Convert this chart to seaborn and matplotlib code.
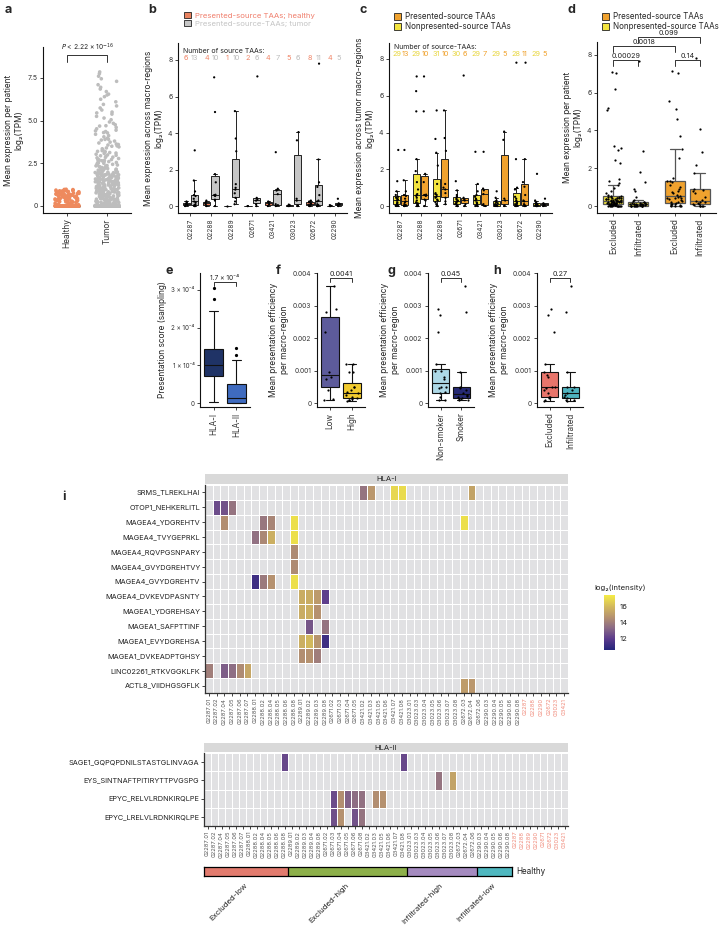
import numpy as np
import pandas as pd
import seaborn as sns
import matplotlib.pyplot as plt
from matplotlib.colors import LinearSegmentedColormap, ListedColormap, Normalize
from matplotlib.cm import ScalarMappable
from matplotlib.patches import Patch
import matplotlib.transforms as mtransforms

# ---------------- data: panel a
a_healthy_nonzero = [0.03, 0.06, 0.09, 0.11, 0.14, 0.17, 0.19, 0.22, 0.24, 0.27, 0.29, 0.31, 0.34, 0.36,
                     0.39, 0.41, 0.43, 0.46, 0.48, 0.51, 0.53, 0.56, 0.58, 0.61, 0.63, 0.66, 0.68, 0.71,
                     0.73, 0.76, 0.78, 0.81, 0.83, 0.86, 0.88, 0.91, 0.93, 0.96, 0.12, 0.25, 0.37, 0.44,
                     0.52, 0.64, 0.72, 0.85, 0.94, 0.07, 0.33, 0.57, 0.69, 0.79, 0.89, 0.21, 0.47, 0.62,
                     0.98, 0.16, 0.54, 0.74, 0.04, 0.13, 0.26, 0.38, 0.49, 0.59, 0.67, 0.77, 0.87, 0.95,
                     0.08, 0.18, 0.28, 0.42, 0.55, 0.65, 0.75, 0.82, 0.92, 0.97, 0.1, 0.23, 0.35, 0.45,
                     0.6, 0.7, 0.8, 0.9]
a_healthy_zeros = 300
a_tumor_nonzero = [0.02, 0.04, 0.05, 0.07, 0.09, 0.1, 0.12, 0.13, 0.15, 0.17, 0.18, 0.2, 0.22, 0.23, 0.25,
                   0.27, 0.28, 0.3, 0.32, 0.34, 0.35, 0.37, 0.39, 0.4, 0.42, 0.44, 0.45, 0.47, 0.49, 0.5,
                   0.52, 0.54, 0.55, 0.57, 0.59, 0.6, 0.62, 0.64, 0.65, 0.67, 0.69, 0.7, 0.72, 0.74, 0.75,
                   0.77, 0.79, 0.8, 0.82, 0.84, 0.85, 0.87, 0.89, 0.9, 0.92, 0.94, 0.95, 0.97, 0.99, 0.33,
                   1.01, 1.03, 1.05, 1.07, 1.09, 1.11, 1.13, 1.15, 1.17, 1.19, 1.21, 1.23, 1.25, 1.27, 1.29,
                   1.31, 1.33, 1.35, 1.37, 1.39, 1.41, 1.43, 1.45, 1.47, 1.49, 1.51, 1.53, 1.55, 1.57, 1.59,
                   1.61, 1.63, 1.65, 1.67, 1.69, 1.71, 1.73, 1.75, 1.77, 1.79, 1.81, 1.83, 1.85, 1.87, 1.89,
                   1.91, 1.93, 1.95, 1.97, 1.99, 2.02, 2.05, 2.08, 2.1, 2.13, 2.16, 2.19, 2.22, 2.25, 2.28,
                   2.31, 2.34, 2.37, 2.41, 2.44, 2.48, 2.52, 2.55, 2.59, 2.63, 2.67, 2.7, 2.74, 2.78, 2.82,
                   2.86, 2.9, 2.94, 2.97, 2.99, 3.03, 3.08, 3.13, 3.18, 3.24, 3.29, 3.35, 3.4, 3.46, 3.52,
                   3.57, 3.63, 3.69, 3.74, 3.8, 3.86, 3.91, 3.97, 3.2, 3.6, 4.05, 4.12, 4.2, 4.28, 4.36,
                   4.44, 4.52, 4.6, 4.68, 4.76, 4.84, 4.92, 4.3, 4.7, 5.05, 5.15, 5.25, 5.38, 5.5, 5.62,
                   5.74, 5.86, 5.95, 5.45, 6.1, 6.25, 6.4, 6.55, 6.7, 6.85, 6.95, 6.5, 7.1, 7.3, 7.45, 7.6,
                   7.75, 7.85,
                   0.03, 0.08, 0.14, 0.19, 0.26, 0.31, 0.38, 0.43, 0.48, 0.53, 0.58, 0.63, 0.68, 0.73,
                   0.78, 0.83, 0.88, 0.93, 0.98, 1.02, 1.06, 1.1, 1.14, 1.18, 1.22, 1.26, 1.3, 1.34, 1.38,
                   1.42, 1.46, 1.5, 1.54, 1.58, 1.62, 1.66, 1.7, 1.74, 1.78, 1.82, 1.86, 1.9, 1.94, 1.98,
                   2.04, 2.12, 2.2, 2.3, 2.4, 2.5, 2.6, 2.72, 2.85, 0.06, 0.16, 0.24, 0.36, 0.46, 0.56,
                   0.66, 0.76, 0.86, 0.96, 1.04, 1.16, 1.28, 1.44, 1.56, 1.68, 1.84, 1.96, 2.15, 2.35,
                   2.65, 3.1, 3.5, 3.9, 4.4]
a_tumor_zeros = 900
a_pvalue = "$P$ < 2.22 × 10$^{-16}$"

# ---------------- data: panels b, c
patients = ["02287", "02288", "02289", "02671", "03421", "03023", "02672", "02290"]
b_healthy = [[0.0, 0.05, 0.1, 0.15, 0.2, 0.25], [0.0, 0.1, 0.2, 0.3], [0.0], [0.0, 0.0],
             [0.0, 0.1, 0.2, 0.25], [0.0, 0.0, 0.02, 0.05, 0.08],
             [0.0, 0.0, 0.05, 0.1, 0.15, 0.2, 0.25, 0.3], [0.0, 0.0, 0.02, 0.05]]
b_tumor = [[0, 0, 0.02, 0.05, 0.1, 0.2, 0.25, 0.4, 0.55, 0.6, 0.8, 1.4, 3.05],
           [0, 0.3, 0.35, 0.55, 0.6, 0.62, 1.3, 1.75, 5.15, 7.05],
           [0.1, 0.25, 0.45, 0.7, 0.9, 1.0, 1.2, 3.0, 3.7, 5.2],
           [0.0, 0.1, 0.3, 0.35, 0.45, 7.1],
           [0, 0.05, 0.1, 0.65, 0.85, 0.95, 2.95],
           [0, 0.02, 0.3, 0.4, 3.6, 4.05],
           [0, 0, 0.05, 0.1, 0.25, 0.3, 0.6, 1.05, 1.3, 2.55, 7.8],
           [0, 0.05, 0.1, 0.15, 0.4]]
b_n_healthy = [6, 4, 1, 2, 4, 5, 8, 4]
b_n_tumor = [13, 10, 10, 6, 7, 6, 11, 5]

c_nonpresented = [[0, 0, 0.02, 0.05, 0.1, 0.15, 0.2, 0.3, 0.35, 0.4, 0.45, 0.5, 0.6, 0.8, 1.35, 3.05],
                  [0, 0, 0.05, 0.1, 0.15, 0.2, 0.3, 0.45, 0.55, 0.6, 0.65, 0.9, 1.3, 1.9, 2.55, 5.15, 6.25, 7.05],
                  [0, 0.05, 0.1, 0.2, 0.3, 0.35, 0.45, 0.5, 0.6, 0.65, 0.7, 1.2, 2.2, 2.9, 3.65, 5.2],
                  [0, 0, 0.05, 0.1, 0.15, 0.2, 0.25, 0.3, 0.35, 0.4, 0.5, 0.6, 0.85, 1.35],
                  [0, 0, 0.05, 0.1, 0.15, 0.2, 0.3, 0.35, 0.4, 0.5, 0.6, 0.8, 1.2, 2.95],
                  [0, 0, 0, 0.02, 0.05, 0.08, 0.1, 0.15, 0.2, 0.25, 0.3, 0.45, 0.8],
                  [0, 0, 0.02, 0.05, 0.1, 0.15, 0.2, 0.25, 0.3, 0.4, 0.5, 0.9, 1.0, 2.55, 7.8],
                  [0, 0, 0, 0.02, 0.05, 0.05, 0.08, 0.1, 0.12, 0.15, 0.2, 0.3, 1.75]]
c_presented = b_tumor
c_n_nonpresented = [29, 29, 31, 30, 29, 29, 28, 29]
c_n_presented = [13, 10, 10, 6, 7, 5, 11, 5]

# ---------------- data: panel d
d_non_excluded = [0, 0, 0, 0, 0.02, 0.05, 0.05, 0.08, 0.1, 0.1, 0.12, 0.15, 0.15, 0.2, 0.2, 0.22, 0.25,
                  0.3, 0.3, 0.35, 0.4, 0.4, 0.45, 0.5, 0.5, 0.55, 0.6, 0.7, 0.8, 0.95, 1.1, 1.2, 1.3,
                  1.45, 2.25, 2.45, 2.95, 3.05, 3.15, 5.1, 5.2, 6.2, 7.05, 7.1,
                  0, 0, 0, 0.01, 0.03, 0.04, 0.06, 0.07, 0.09, 0.11, 0.13, 0.14, 0.16, 0.18, 0.19,
                  0.21, 0.23, 0.24, 0.26, 0.28, 0.31, 0.33, 0.36, 0.38, 0.42, 0.47, 0.52, 0.02, 0.05,
                  0.1, 0.15, 0.2, 0.25, 0.35, 0.45]
d_non_infiltrated = [0, 0, 0, 0, 0, 0.02, 0.03, 0.05, 0.05, 0.08, 0.1, 0.1, 0.12, 0.15, 0.2, 0.2, 0.25,
                     0.3, 0.5, 0.8, 0.9, 1.25, 1.8, 2.9, 7.65,
                     0, 0, 0.01, 0.02, 0.04, 0.06, 0.07, 0.09, 0.11, 0.13, 0.15, 0.18]
d_pres_excluded = [0, 0, 0, 0.02, 0.05, 0.05, 0.08, 0.1, 0.1, 0.15, 0.2, 0.2, 0.25, 0.3, 0.35, 0.4, 0.4,
                   0.45, 0.5, 0.55, 0.6, 0.7, 0.75, 0.8, 0.9, 1.0, 1.1, 1.25, 1.3, 1.35, 1.5, 2.55, 3.0,
                   3.7, 4.6, 5.15, 5.55, 7.05, 7.15]
d_pres_infiltrated = [0, 0, 0, 0.02, 0.05, 0.08, 0.1, 0.15, 0.2, 0.2, 0.25, 0.3, 0.5, 0.7, 0.8, 0.85,
                      0.9, 1.75, 2.15, 2.85, 4.1, 7.85]
d_p_values = ["0.00029", "0.0018", "0.099", "0.14"]

# ---------------- data: panels e-h
e_hla1 = [0.02, 0.3, 0.5, 0.65, 0.72, 0.75, 0.85, 0.95, 1.0, 1.0, 1.1, 1.25, 1.4, 1.45, 1.7, 2.45, 2.75, 3.05]
e_hla2 = [0, 0, 0, 0, 0.01, 0.05, 0.1, 0.12, 0.15, 0.25, 0.4, 0.45, 0.5, 0.8, 1.15, 1.27, 1.47]
e_scale = 1e-4
f_low = [0.0001, 0.00012, 0.0004, 0.00075, 0.0008, 0.00095, 0.0022, 0.0028, 0.0029, 0.0036]
f_high = [0.00005, 0.0001, 0.0001, 0.00012, 0.00015, 0.0002, 0.00025, 0.0003, 0.00035, 0.0004, 0.0005,
          0.0005, 0.00095, 0.00095, 0.0012, 0.0012]
g_nonsmoker = [0.00008, 0.0001, 0.0002, 0.0003, 0.00033, 0.00045, 0.0005, 0.0005, 0.00075, 0.0008,
               0.001, 0.001, 0.0012, 0.0022, 0.0027, 0.0029]
g_smoker = [0.0001, 0.0001, 0.00012, 0.00015, 0.0002, 0.00022, 0.00025, 0.0003, 0.0004, 0.00045,
            0.0005, 0.00095, 0.0028, 0.0036]
h_excluded = [0.00005, 0.0001, 0.00015, 0.0002, 0.0002, 0.0003, 0.0004, 0.00045, 0.0005, 0.0005, 0.0008,
              0.00085, 0.00095, 0.0012, 0.0022, 0.0027, 0.0029]
h_infiltrated = [0.00005, 0.0001, 0.0001, 0.00015, 0.0002, 0.00025, 0.0003, 0.0004, 0.0005, 0.0005,
                 0.00095, 0.0028, 0.0036]
efgh_p = ["1.7 × 10⁻⁴", "0.0041", "0.045", "0.27"]

# ---------------- data: panel i
hla1_peptides = ["SRMS_TLREKLHAI", "OTOP1_NEHKERLITL", "MAGEA4_YDGREHTV", "MAGEA4_TVYGEPRKL",
                 "MAGEA4_RQVPGSNPARY", "MAGEA4_GVYDGREHTVY", "MAGEA4_GVYDGREHTV", "MAGEA4_DVKEVDPASNTY",
                 "MAGEA1_YDGREHSAY", "MAGEA1_SAFPTTINF", "MAGEA1_EVYDGREHSA", "MAGEA1_DVKEADPTGHSY",
                 "LINC02261_RTKVGGKLFK", "ACTL8_VIIDHGSGFLK"]
hla1_samples = ["02287.01", "02287.02", "02287.04", "02287.05", "02287.06", "02287.07",
                "02288.01", "02288.02", "02288.04", "02288.05", "02288.06", "02288.08",
                "02289.01", "02289.02", "02289.03", "02289.08",
                "02671.02", "02671.03", "02671.04", "02671.05",
                "03421.02", "03421.03", "03421.05", "03421.06", "03421.07", "03421.08",
                "03023.01", "03023.03", "03023.04", "03023.05", "03023.06", "03023.07", "03023.08",
                "02672.03", "02672.04", "02672.06",
                "02290.03", "02290.04", "02290.05", "02290.06", "02290.08",
                "02287", "02288", "02290", "02672", "03023", "03421"]
hla1_hit_peptide = (["SRMS_TLREKLHAI"] * 5 + ["OTOP1_NEHKERLITL"] * 3 + ["MAGEA4_YDGREHTV"] * 5
                    + ["MAGEA4_TVYGEPRKL"] * 4 + ["MAGEA4_RQVPGSNPARY", "MAGEA4_GVYDGREHTVY"]
                    + ["MAGEA4_GVYDGREHTV"] * 4 + ["MAGEA4_DVKEVDPASNTY"] * 4 + ["MAGEA1_YDGREHSAY"] * 3
                    + ["MAGEA1_SAFPTTINF"] * 2 + ["MAGEA1_EVYDGREHSA"] * 4 + ["MAGEA1_DVKEADPTGHSY"] * 3
                    + ["LINC02261_RTKVGGKLFK"] * 5 + ["ACTL8_VIIDHGSGFLK"] * 2)
hla1_hit_sample = ["03421.02", "03421.03", "03421.07", "03421.08", "02672.04",
                   "02287.02", "02287.04", "02287.05",
                   "02287.04", "02288.02", "02288.04", "02288.08", "02672.03",
                   "02288.01", "02288.02", "02288.04", "02288.08",
                   "02288.08", "02288.08",
                   "02288.01", "02288.02", "02288.04", "02288.08",
                   "02289.01", "02289.02", "02289.03", "02289.08",
                   "02289.01", "02289.02", "02289.03",
                   "02289.02", "02289.08",
                   "02289.01", "02289.02", "02289.03", "02289.08",
                   "02289.01", "02289.02", "02289.03",
                   "02287.01", "02287.04", "02287.05", "02287.06", "02287.07",
                   "02672.03", "02672.04"]
hla1_hit_log2 = [13.6, 14.8, 16.8, 16.9, 15.2,
                 12.4, 12.6, 13.6,
                 14.5, 13.7, 14.2, 17.0, 17.0,
                 13.5, 14.3, 15.6, 17.0,
                 14.4, 14.4,
                 11.2, 13.8, 14.6, 17.0,
                 15.5, 15.5, 14.9, 12.0,
                 15.5, 15.6, 14.6,
                 12.7, 13.6,
                 15.6, 15.9, 14.7, 11.2,
                 14.5, 14.6, 13.9,
                 14.0, 12.9, 13.4, 14.4, 15.3,
                 15.0, 14.8]

hla2_peptides = ["SAGE1_GQPQPDNILSTASTGLINVAGA", "EYS_SINTNAFTPITIRYTTPVGSPG",
                 "EPYC_RELVLRDNKIRQLPE", "EPYC_LRELVLRDNKIRQLPE"]
hla2_samples = ["02287.01", "02287.02", "02287.04", "02287.05", "02287.06", "02287.07",
                "02288.01", "02288.02", "02288.04", "02288.05", "02288.06", "02288.08",
                "02289.01", "02289.02", "02289.03", "02289.04", "02289.08",
                "02671.02", "02671.03", "02671.04", "02671.05", "02671.06", "02671.08",
                "03421.02", "03421.03", "03421.05", "03421.06", "03421.07", "03421.08",
                "03023.01", "03023.03", "03023.04", "03023.05", "03023.06", "03023.07", "03023.08",
                "02672.03", "02672.04", "02672.06",
                "02290.03", "02290.04", "02290.05", "02290.06", "02290.08",
                "02287", "02288", "02289", "02290", "02671", "02672", "03023", "03421"]
hla2_hit_peptide = (["SAGE1_GQPQPDNILSTASTGLINVAGA"] * 2 + ["EYS_SINTNAFTPITIRYTTPVGSPG"] * 2
                    + ["EPYC_RELVLRDNKIRQLPE"] * 7 + ["EPYC_LRELVLRDNKIRQLPE"] * 4)
hla2_hit_sample = ["02288.08", "03421.08", "03023.06", "03023.08",
                   "02671.03", "02671.04", "02671.05", "02671.06", "02671.08", "03421.03", "03421.05",
                   "02671.03", "02671.04", "02671.06", "02671.08"]
hla2_hit_log2 = [12.3, 12.3, 13.6, 15.2,
                 12.4, 14.5, 13.0, 13.4, 13.5, 14.5, 14.6,
                 12.5, 14.6, 12.6, 13.6]

group_patients = ["02287", "02288", "02289", "02671", "03421", "03023", "02672", "02290"]
group_names = ["Excluded-low", "Excluded-low", "Excluded-high", "Excluded-high", "Excluded-high",
               "Infiltrated-high", "Infiltrated-high", "Infiltrated-low"]
group_order = ["Excluded-low", "Excluded-high", "Infiltrated-high", "Infiltrated-low"]

# ---------------- style
sns.set_style("ticks")
plt.rcParams["font.family"] = ["Inter", "DejaVu Sans"]
plt.rcParams.update({
    "axes.linewidth": 0.8, "axes.edgecolor": "#111111",
    "xtick.major.size": 2.5, "ytick.major.size": 2.5,
    "xtick.major.width": 0.6, "ytick.major.width": 0.6,
    "xtick.labelsize": 5, "ytick.labelsize": 5,
    "xtick.labelcolor": "#333333", "ytick.labelcolor": "#333333",
    "axes.labelsize": 6, "axes.labelcolor": "#222222", "font.size": 6,
    "xtick.major.pad": 1.5, "ytick.major.pad": 1.5,
})

W, H = 722.0, 926.0
fig = plt.figure(figsize=(W / 100, H / 100), dpi=100)


def box_ax(x0, y0, x1, y1):
    return fig.add_axes([x0 / W, 1 - y1 / H, (x1 - x0) / W, (y1 - y0) / H])


def bracket(ax, x0, x1, y, h, text, fs=5.2):
    ax.plot([x0, x0, x1, x1], [y - h, y, y, y - h], color="#333333", lw=0.7, clip_on=False)
    ax.text((x0 + x1) / 2, y + h * 0.25, text, ha="center", va="bottom", fontsize=fs,
            color="#222222", clip_on=False)


def letter(x, y, s):
    fig.text(x / W, 1 - y / H, s, fontsize=9, fontweight="bold", va="center", ha="left")


def long_df(cats, groups, arrays):
    rows = []
    for cat, grp, vals in zip(cats, groups, arrays):
        rows += [(cat, grp, v) for v in vals]
    return pd.DataFrame(rows, columns=["cat", "grp", "val"])


np.random.seed(3)

# ---------------- panel a
ax = box_ax(43, 47, 131, 213)
df_a = pd.DataFrame({
    "tissue": ["Healthy"] * (a_healthy_zeros + len(a_healthy_nonzero))
              + ["Tumor"] * (a_tumor_zeros + len(a_tumor_nonzero)),
    "expr": np.concatenate([np.zeros(a_healthy_zeros), a_healthy_nonzero,
                            np.zeros(a_tumor_zeros), a_tumor_nonzero])})
sns.stripplot(df_a, x="tissue", y="expr", hue="tissue",
              palette={"Healthy": "#EE8A5E", "Tumor": "#BDBDBD"}, size=2.6, jitter=0.3,
              linewidth=0, legend=False, ax=ax)
sns.boxplot(df_a, x="tissue", y="expr", hue="tissue",
            palette={"Healthy": "#8E7468", "Tumor": "#8A8A8A"}, fill=False, linewidth=1.8,
            width=0.62, showfliers=False, saturation=1, legend=False, ax=ax)
ax.set_xlim(-0.6, 1.6)
ax.set_ylim(-0.41, 9.31)
ax.set_yticks([0, 2.5, 5, 7.5], ["0", "2.5", "5.0", "7.5"])
ax.set_xlabel("")
ax.set_ylabel("Mean expression per patient\nlog₂(TPM)", labelpad=3)
ax.tick_params(axis="x", rotation=90, labelsize=6)
sns.despine(ax=ax)
bracket(ax, 0, 1, 8.85, 0.4, a_pvalue, fs=4.8)

# ---------------- panel b
ax = box_ax(178, 43, 347, 213)
df_b = pd.concat([long_df(patients, ["healthy"] * 8, b_healthy),
                  long_df(patients, ["tumor"] * 8, b_tumor)])
b_pal = {"healthy": "#E9825F", "tumor": "#C6C6C6"}
sns.boxplot(df_b, x="cat", y="val", hue="grp", order=patients, hue_order=["healthy", "tumor"],
            palette=b_pal, linecolor="#222222", linewidth=0.7, width=0.8, gap=0.12, saturation=1,
            showfliers=False, legend=False, ax=ax)
sns.stripplot(df_b, x="cat", y="val", hue="grp", order=patients, hue_order=["healthy", "tumor"],
              palette={"healthy": "black", "tumor": "black"}, dodge=True, size=1.6, jitter=0.12,
              legend=False, ax=ax)
ax.set_xlim(-0.6, 7.6)
ax.set_ylim(-0.38, 8.93)
ax.set_yticks([0, 2, 4, 6, 8])
ax.set_xlabel("")
ax.set_ylabel("Mean expression across macro-regions\nlog₂(TPM)", labelpad=3)
ax.tick_params(axis="x", rotation=90, labelsize=4.8)
sns.despine(ax=ax)
trb = mtransforms.blended_transform_factory(ax.transData, ax.transAxes)
ax.text(0.03, 0.955, "Number of source TAAs:", transform=ax.transAxes, fontsize=5, va="center")
for i, (nh, nt) in enumerate(zip(b_n_healthy, b_n_tumor)):
    ax.text(i - 0.22, 0.912, str(nh), transform=trb, color="#F0876A", fontsize=5.3, ha="center", va="center")
    ax.text(i + 0.22, 0.912, str(nt), transform=trb, color="#BDBDBD", fontsize=5.3, ha="center", va="center")
fig.legend([Patch(facecolor=b_pal["healthy"], edgecolor="#222222", lw=0.6),
            Patch(facecolor=b_pal["tumor"], edgecolor="#222222", lw=0.6)],
           ["Presented-source TAAs; healthy", "Presented-source-TAAs; tumor"],
           loc="upper left", bbox_to_anchor=(180 / W, 1 - 8 / H), frameon=False, fontsize=5.6,
           handlelength=0.9, handleheight=0.9, handletextpad=0.5, labelspacing=0.15,
           borderpad=0, labelcolor=["#F07E6C", "#C4C4C4"])

# ---------------- panel c
ax = box_ax(389, 43, 552, 213)
df_c = pd.concat([long_df(patients, ["non"] * 8, c_nonpresented),
                  long_df(patients, ["pres"] * 8, c_presented)])
c_pal = {"non": "#F3E43F", "pres": "#F0A22E"}
sns.boxplot(df_c, x="cat", y="val", hue="grp", order=patients, hue_order=["non", "pres"],
            palette=c_pal, linecolor="#222222", linewidth=0.7, width=0.8, gap=0.12, saturation=1,
            showfliers=False, legend=False, ax=ax)
sns.stripplot(df_c, x="cat", y="val", hue="grp", order=patients, hue_order=["non", "pres"],
              palette={"non": "black", "pres": "black"}, dodge=True, size=1.6, jitter=0.14,
              legend=False, ax=ax)
ax.set_xlim(-0.6, 7.6)
ax.set_ylim(-0.38, 8.87)
ax.set_yticks([0, 2, 4, 6, 8])
ax.set_xlabel("")
ax.set_ylabel("Mean expression across tumor macro-regions\nlog₂(TPM)", labelpad=3)
ax.tick_params(axis="x", rotation=90, labelsize=4.8)
sns.despine(ax=ax)
trc = mtransforms.blended_transform_factory(ax.transData, ax.transAxes)
ax.text(0.03, 0.975, "Number of source-TAAs:", transform=ax.transAxes, fontsize=5, va="center")
for i, (nn, npres) in enumerate(zip(c_n_nonpresented, c_n_presented)):
    ax.text(i - 0.22, 0.935, str(nn), transform=trc, color="#E8D63E", fontsize=5.3, ha="center", va="center")
    ax.text(i + 0.22, 0.935, str(npres), transform=trc, color="#F0A22E", fontsize=5.3, ha="center", va="center")
fig.legend([Patch(facecolor=c_pal["pres"], edgecolor="#222222", lw=0.6),
            Patch(facecolor=c_pal["non"], edgecolor="#222222", lw=0.6)],
           ["Presented-source TAAs", "Nonpresented-source TAAs"],
           loc="upper left", bbox_to_anchor=(390 / W, 1 - 8 / H), frameon=False, fontsize=5.8,
           handlelength=0.9, handleheight=0.9, handletextpad=0.5, labelspacing=0.15, borderpad=0)

# ---------------- panel d
ax = box_ax(597, 42, 716, 213)
d_cats = ["Excluded", "Infiltrated", "Excluded", "Infiltrated"]
d_sets = ["non", "non", "pres", "pres"]
df_d = long_df(d_cats, d_sets, [d_non_excluded, d_non_infiltrated, d_pres_excluded, d_pres_infiltrated])
d_pos = {("non", "Excluded"): 0.0, ("non", "Infiltrated"): 1.0,
         ("pres", "Excluded"): 2.45, ("pres", "Infiltrated"): 3.45}
df_d["pos"] = [d_pos[(g, c)] for g, c in zip(df_d["grp"], df_d["cat"])]
sns.boxplot(df_d, x="pos", y="val", hue="grp", native_scale=True, dodge=False, palette=c_pal,
            linecolor="#555555", linewidth=0.9, width=0.8, showfliers=False, saturation=1,
            legend=False, ax=ax)
sns.stripplot(df_d, x="pos", y="val", native_scale=True, color="black", size=1.6, jitter=0.32,
              ax=ax)
ax.set_xlim(-0.65, 4.1)
ax.set_ylim(-0.37, 8.68)
ax.set_yticks([0, 2, 4, 6, 8])
ax.set_xticks(sorted(d_pos.values()), ["Excluded", "Infiltrated", "Excluded", "Infiltrated"])
ax.set_xlabel("")
ax.set_ylabel("Mean expression per patient\nlog₂(TPM)", labelpad=3)
ax.tick_params(axis="x", rotation=90, labelsize=6)
sns.despine(ax=ax)
bracket(ax, 0, 1, 7.72, 0.3, d_p_values[0])
bracket(ax, 0, 2.45, 8.47, 0.3, d_p_values[1])
bracket(ax, 1, 3.45, 8.92, 0.3, d_p_values[2])
bracket(ax, 2.45, 3.45, 7.72, 0.3, d_p_values[3])
fig.legend([Patch(facecolor=c_pal["pres"], edgecolor="#222222", lw=0.6),
            Patch(facecolor=c_pal["non"], edgecolor="#222222", lw=0.6)],
           ["Presented-source TAAs", "Nonpresented-source TAAs"],
           loc="upper left", bbox_to_anchor=(598 / W, 1 - 8 / H), frameon=False, fontsize=5.8,
           handlelength=0.9, handleheight=0.9, handletextpad=0.5, labelspacing=0.15, borderpad=0)

# ---------------- panel e
ax = box_ax(200, 273, 250, 407)
df_e = long_df(["HLA-I", "HLA-II"], ["HLA-I", "HLA-II"],
               [np.array(e_hla1) * e_scale, np.array(e_hla2) * e_scale])
sns.boxplot(df_e, x="cat", y="val", hue="grp", palette={"HLA-I": "#1F3366", "HLA-II": "#3F6BBF"},
            linecolor="#111111", linewidth=0.8, width=0.82, saturation=1, legend=False, ax=ax,
            flierprops=dict(marker="o", markersize=1.3, markerfacecolor="black", markeredgecolor="black"))
ax.set_xlim(-0.6, 1.6)
ax.set_ylim(-0.1e-4, 3.45e-4)
ax.set_yticks([0, 1e-4, 2e-4, 3e-4], ["0", "1 × 10⁻⁴", "2 × 10⁻⁴", "3 × 10⁻⁴"])
ax.set_xlabel("")
ax.set_ylabel("Presentation score (sampling)", labelpad=3)
ax.tick_params(axis="x", rotation=90, labelsize=5.8)
ax.tick_params(axis="y", labelsize=4.5)
sns.despine(ax=ax)
bracket(ax, 0, 1, 3.2e-4, 0.1e-4, efgh_p[0], fs=4.8)


def eff_panel(rect, names, arrays, colors, ptext):
    ax = box_ax(*rect)
    df = long_df(names, names, arrays)
    sns.boxplot(df, x="cat", y="val", hue="grp", palette=dict(zip(names, colors)),
                linecolor="#111111", linewidth=0.8, width=0.8, showfliers=False, saturation=1,
                legend=False, ax=ax)
    sns.stripplot(df, x="cat", y="val", color="black", size=1.6, jitter=0.3, ax=ax)
    ax.set_xlim(-0.6, 1.6)
    ax.set_ylim(-0.00012, 0.004)
    ax.set_yticks([0, 0.001, 0.002, 0.003, 0.004], ["0", "0.001", "0.002", "0.003", "0.004"])
    ax.set_xlabel("")
    ax.set_ylabel("Mean presentation efficiency\nper macro-region", labelpad=3)
    ax.tick_params(axis="x", rotation=90, labelsize=5.8)
    ax.tick_params(axis="y", labelsize=4.8)
    sns.despine(ax=ax)
    bracket(ax, 0, 1, 0.00385, 0.00012, ptext)
    return ax


eff_panel((317, 273, 365, 407), ["Low", "High"], [f_low, f_high], ["#5D5B9B", "#F2CB2F"], efgh_p[1])
eff_panel((428, 273, 474, 407), ["Non-smoker", "Smoker"], [g_nonsmoker, g_smoker],
          ["#ADD8E6", "#262A74"], efgh_p[2])
eff_panel((537, 273, 583, 407), ["Excluded", "Infiltrated"], [h_excluded, h_infiltrated],
          ["#E8756B", "#4FB3BF"], efgh_p[3])

# ---------------- panel i
hm_cmap = LinearSegmentedColormap.from_list(
    "intensity", ["#25257A", "#5A3A8C", "#8A6A86", "#B6926F", "#D4BB5C", "#F5EC45"])
vmin, vmax = 10.5, 17.4
grey_cmap = ListedColormap(["#E1E1E3"])
healthy_color = "#F08A7A"


def draw_heatmap(rect, strip_rect, title, peptides, samples, hit_p, hit_s, hit_v):
    mat = pd.DataFrame(np.nan, index=peptides, columns=samples)
    for p, s, v in zip(hit_p, hit_s, hit_v):
        mat.loc[p, s] = v
    ax = box_ax(*rect)
    sns.heatmap(np.zeros(mat.shape), cmap=grey_cmap, cbar=False, linewidths=0.55, linecolor="white",
                xticklabels=samples, yticklabels=peptides, ax=ax)
    sns.heatmap(mat, mask=mat.isna(), cmap=hm_cmap, vmin=vmin, vmax=vmax, cbar=False,
                linewidths=0.55, linecolor="white", xticklabels=samples, yticklabels=peptides, ax=ax)
    for side in ["left", "bottom"]:
        ax.spines[side].set_visible(True)
        ax.spines[side].set_linewidth(0.9)
        ax.spines[side].set_color("#333333")
    ax.tick_params(axis="x", rotation=90, labelsize=4.2, length=2, labelcolor="#555555")
    ax.tick_params(axis="y", rotation=0, labelsize=5.3, length=2, labelcolor="#222222")
    for lbl in ax.get_xticklabels():
        if "." not in lbl.get_text():
            lbl.set_color(healthy_color)
    ax.set_xlabel("")
    ax.set_ylabel("")
    st = box_ax(*strip_rect)
    st.set_facecolor("#D9D9D9")
    st.set_xticks([])
    st.set_yticks([])
    for s in st.spines.values():
        s.set_visible(False)
    st.text(0.5, 0.5, title, ha="center", va="center", fontsize=5.5, color="#222222",
            transform=st.transAxes)
    return ax


draw_heatmap((205, 485, 568, 693), (205, 474, 568, 484), "HLA-I", hla1_peptides, hla1_samples,
             hla1_hit_peptide, hla1_hit_sample, hla1_hit_log2)
draw_heatmap((204, 753, 568, 826), (204, 743, 568, 752), "HLA-II", hla2_peptides, hla2_samples,
             hla2_hit_peptide, hla2_hit_sample, hla2_hit_log2)

# group annotation bar
group_colors = {"Excluded-low": "#E27B6E", "Excluded-high": "#8DB04A",
                "Infiltrated-high": "#A58BC0", "Infiltrated-low": "#4FB8C0"}
patient_group = dict(zip(group_patients, group_names))
bar_samples = [s for s in hla2_samples if "." in s]
bar_codes = np.array([[group_order.index(patient_group[s.split(".")[0]]) for s in bar_samples]])
n_bar = len(bar_samples)
bax = box_ax(204, 867, 204 + 364 * n_bar / len(hla2_samples), 876)
sns.heatmap(bar_codes, cmap=ListedColormap([group_colors[g] for g in group_order]), vmin=-0.5,
            vmax=len(group_order) - 0.5, cbar=False, xticklabels=False, yticklabels=False, ax=bax)
for s in bax.spines.values():
    s.set_visible(True)
    s.set_linewidth(0.9)
    s.set_color("black")
codes = bar_codes[0]
for k in range(1, n_bar):
    if codes[k] != codes[k - 1]:
        bax.axvline(k, color="black", lw=0.9)
for gi, g in enumerate(group_order):
    idx = np.where(codes == gi)[0]
    centre = (idx.min() + idx.max() + 1) / 2
    bax.text(centre, 1.9, g, rotation=45, rotation_mode="anchor", ha="right", va="center",
             fontsize=5.6, color="#222222", clip_on=False)
bax.text(n_bar + 0.6, 0.5, "Healthy", ha="left", va="center", fontsize=5.8, color="#222222",
         clip_on=False)

# colour bar
cax = box_ax(604, 595, 615, 650)
cb = fig.colorbar(ScalarMappable(norm=Normalize(vmin, vmax), cmap=hm_cmap), cax=cax)
cb.outline.set_visible(False)
cb.set_ticks([12, 14, 16])
cax.tick_params(direction="in", length=2.5, width=0.8, color="white", labelsize=5.5,
                labelcolor="#222222", pad=3)
fig.text(594 / W, 1 - 588 / H, "log₂(intensity)", fontsize=5.6, va="center", ha="left",
         color="#222222")

# panel letters
for s, (x, y) in zip("abcdefghi", [(5, 10), (148, 10), (359, 10), (568, 10), (165, 271),
                                    (276, 271), (387, 271), (493, 271), (62, 497)]):
    letter(x, y, s)

fig.savefig("out.png", dpi=100)
